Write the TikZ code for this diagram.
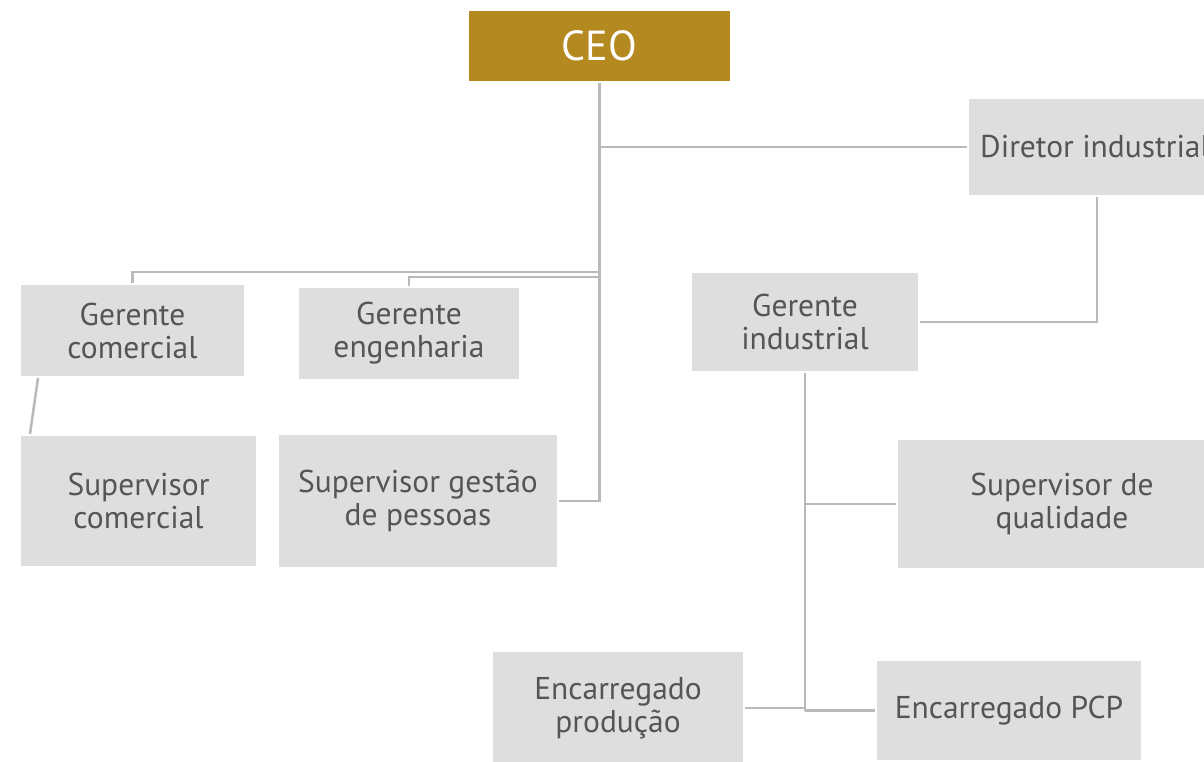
\documentclass[tikz,border=0pt]{standalone}
\usepackage{fontspec}
\setmainfont{PT Sans}
\usepackage{xcolor}
\usepackage{tikz}
\usetikzlibrary{positioning}
\definecolor{ceogold}{RGB}{179, 137, 32}
\definecolor{boxgray}{RGB}{222, 222, 222}
\definecolor{textgray}{RGB}{85, 85, 85}
\definecolor{linegray}{RGB}{185, 185, 185}

\begin{document}
\begin{tikzpicture}[
    x=1pt, y=-1pt,
    box/.style={rectangle, fill=boxgray, text=textgray, align=center, inner sep=0pt, outer sep=2pt, font=\fontsize{31.5}{33}\selectfont},
    topbox/.style={box, fill=ceogold, text=white, font=\fontsize{42}{46}\selectfont},
    line/.style={linegray, line width=2.5pt}
]
\useasboundingbox (0,0) rectangle (1204,761);
\clip (0,0) rectangle (1204,761);

\node[topbox, minimum width=261pt, minimum height=70pt] (ceo) at (599.5,46) {CEO};
\node[box, minimum width=252pt, minimum height=96pt] (dirind) at (1095,147) {Diretor industrial};
\node[box, minimum width=223pt, minimum height=91pt] (gercom) at (132.5,330.5) {Gerente\\comercial};
\node[box, minimum width=220pt, minimum height=91pt] (gereng) at (409,333.5) {Gerente\\engenharia};
\node[box, minimum width=235pt, minimum height=130pt] (supcom) at (138.5,501) {Supervisor\\comercial};
\node[box, minimum width=278pt, minimum height=132pt] (supgp) at (418,501) {Supervisor gestão\\de pessoas};
\node[box, minimum width=226pt, minimum height=98pt] (gerind) at (805,322) {Gerente\\industrial};
\node[box, minimum width=328pt, minimum height=128pt] (supqual) at (1062,504) {Supervisor de\\qualidade};
\node[box, minimum width=250pt, minimum height=112pt] (encprod) at (618,708) {Encarregado\\produção};
\node[box, minimum width=264pt, minimum height=99pt] (encpcp) at (1009,710.5) {Encarregado PCP};

\coordinate (ramo1) at (599.5,272);
\coordinate (ramo2) at (599.5,277);

\draw[line] (ceo.south) |- (supgp.east);
\draw[line] (ceo.south |- dirind.west) -- (dirind.west);
\draw[line] (gercom.north) |- (ramo1);
\draw[line] (gereng.north) |- (ramo2);
\draw[line] ([xshift=19pt]gercom.south west) -- ([xshift=11pt]supcom.north west);
\draw[line] ([xshift=2pt]dirind.south) |- (gerind.east);
\draw[line] (gerind.south) -- (gerind.south |- encpcp.west);
\draw[line] (gerind.south |- supqual.west) -- (supqual.west);
\draw[line] (encprod.east) -- (gerind.south |- encprod.east);
\draw[line] (gerind.south |- encpcp.west) -- (encpcp.west);

\end{tikzpicture}
\end{document}
